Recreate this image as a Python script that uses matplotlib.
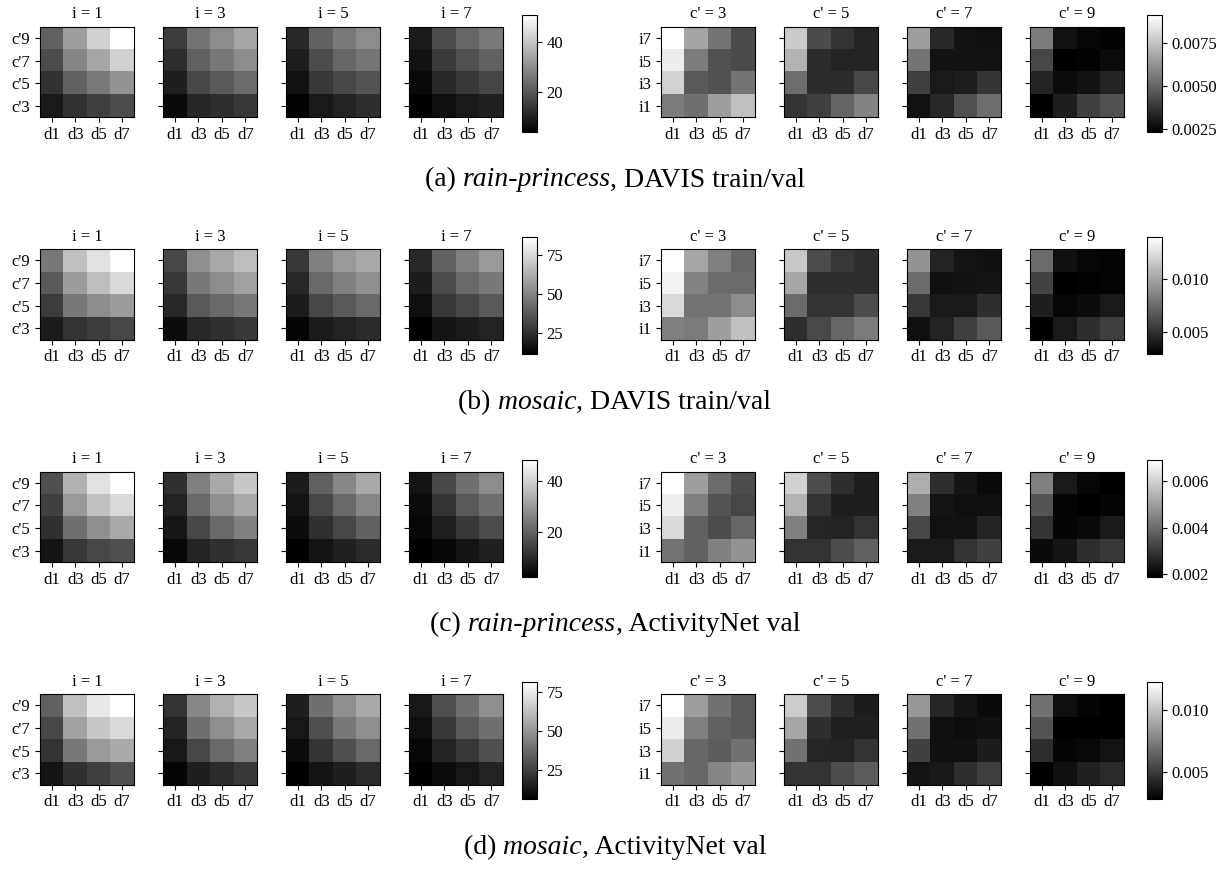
import matplotlib
matplotlib.use("Agg")
from matplotlib import pyplot as plt
import numpy as np

plt.rcParams['font.family'] = ['Liberation Serif', 'DejaVu Serif']
plt.rcParams['font.size'] = 12

W, H = 1230, 872

# axis labels
d_labels = ['d1', 'd3', 'd5', 'd7']
c_labels = ["c'9", "c'7", "c'5", "c'3"]      # rows top to bottom
i_labels = ['i7', 'i5', 'i3', 'i1']          # rows top to bottom
left_titles = ['i = 1', 'i = 3', 'i = 5', 'i = 7']
right_titles = ["c' = 3", "c' = 5", "c' = 7", "c' = 9"]

# (a) rain-princess, DAVIS train/val  -- left: rows c'9..c'3, cols d1..d7
a_left = [
    [[21.7, 33.0, 42.3, 50.7], [18.0, 28.3, 34.4, 42.3], [13.3, 21.7, 26.4, 31.1], [8.7, 13.3, 15.7, 18.0]],
    [[15.2, 25.0, 29.7, 34.4], [12.4, 21.7, 26.0, 29.7], [9.6, 17.1, 20.3, 23.6], [5.9, 11.0, 12.4, 14.3]],
    [[11.5, 21.7, 26.4, 29.7], [9.6, 18.0, 22.7, 25.5], [7.3, 14.3, 17.1, 19.4], [4.5, 8.7, 10.5, 12.4]],
    [[9.1, 18.0, 22.7, 26.4], [7.3, 14.7, 18.9, 21.7], [5.9, 11.5, 14.3, 16.6], [4.0, 6.8, 8.7, 10.1]],
]
# right: rows i7..i1, cols d1..d7 (x 1e-3)
a_right = [
    [[9.1, 6.7, 5.4, 4.3], [8.6, 5.6, 4.5, 4.3], [7.9, 4.7, 4.5, 5.4], [5.6, 5.3, 6.5, 7.4]],
    [[7.7, 4.3, 3.7, 3.3], [7.1, 3.5, 3.3, 3.3], [5.2, 3.5, 3.5, 4.2], [3.7, 4.0, 5.0, 5.8]],
    [[6.5, 3.4, 2.8, 2.7], [5.4, 2.8, 2.8, 2.8], [4.0, 3.0, 3.1, 3.7], [2.8, 3.4, 4.5, 5.2]],
    [[5.6, 2.8, 2.5, 2.4], [4.2, 2.35, 2.4, 2.6], [3.3, 2.6, 2.8, 3.3], [2.3, 3.1, 4.0, 4.5]],
]

# (b) mosaic, DAVIS train/val
b_left = [
    [[46.3, 67.3, 77.0, 86.0], [37.3, 56.8, 66.5, 74.8], [29.0, 46.3, 52.3, 56.8], [19.3, 26.0, 29.0, 32.0]],
    [[32.0, 53.0, 60.5, 66.5], [27.5, 46.3, 52.3, 58.3], [23.0, 37.3, 41.8, 46.3], [14.8, 23.0, 25.3, 27.5]],
    [[27.5, 48.5, 56.0, 60.5], [23.0, 41.8, 48.5, 53.0], [19.3, 32.0, 37.3, 41.8], [12.5, 19.3, 21.5, 23.8]],
    [[23.0, 39.5, 48.5, 56.0], [19.3, 33.5, 41.8, 46.3], [15.5, 27.5, 32.0, 37.3], [11.0, 17.0, 19.3, 21.5]],
]
b_right = [
    [[13.9, 10.05, 8.4, 7.3], [13.35, 8.6, 7.5, 7.5], [12.25, 7.85, 7.85, 8.95], [8.4, 8.2, 9.7, 11.15]],
    [[11.5, 6.2, 5.3, 4.9], [10.05, 4.9, 4.9, 4.9], [7.5, 5.1, 5.1, 6.2], [4.9, 6.0, 7.3, 8.2]],
    [[9.3, 4.4, 3.8, 3.6], [7.5, 3.6, 3.7, 3.8], [5.3, 4.0, 4.0, 4.9], [3.6, 4.4, 5.65, 6.75]],
    [[7.5, 3.6, 3.2, 3.1], [5.8, 2.9, 3.0, 3.1], [4.2, 3.2, 3.45, 4.0], [2.9, 4.0, 4.9, 5.65]],
]

# (c) rain-princess, ActivityNet val
c_left = [
    [[16.8, 34.2, 43.0, 48.5], [14.0, 30.1, 37.0, 41.6], [11.2, 22.7, 28.3, 32.9], [6.2, 12.6, 15.4, 16.8]],
    [[11.2, 25.5, 32.9, 38.4], [8.9, 21.4, 28.3, 32.9], [6.6, 15.4, 21.4, 25.5], [3.9, 8.9, 11.2, 12.6]],
    [[7.6, 20.0, 26.9, 32.9], [6.2, 15.4, 21.4, 26.9], [4.8, 11.2, 15.4, 20.0], [2.5, 6.2, 8.3, 10.3]],
    [[6.2, 15.4, 22.7, 27.8], [4.8, 11.7, 18.6, 22.7], [3.9, 8.3, 12.6, 16.3], [2.5, 3.9, 6.2, 8.3]],
]
c_right = [
    [[6.9, 5.0, 4.0, 3.4], [6.55, 4.4, 3.55, 3.3], [6.15, 3.8, 3.4, 3.9], [4.15, 3.8, 4.4, 4.8]],
    [[6.0, 3.4, 2.8, 2.5], [5.4, 2.9, 2.5, 2.5], [4.4, 2.65, 2.6, 2.9], [2.9, 2.9, 3.4, 3.8]],
    [[5.3, 2.8, 2.3, 2.1], [4.4, 2.3, 2.2, 2.2], [3.3, 2.25, 2.25, 2.6], [2.4, 2.4, 2.9, 3.2]],
    [[4.4, 2.4, 2.05, 1.9], [3.55, 2.0, 1.9, 2.0], [2.9, 2.0, 2.1, 2.4], [2.1, 2.3, 2.8, 3.0]],
]

# (d) mosaic, ActivityNet val
d_left = [
    [[34.8, 62.4, 74.3, 81.0], [27.4, 53.4, 64.6, 69.8], [21.4, 41.5, 51.2, 55.7], [12.5, 20.7, 25.1, 29.6]],
    [[21.4, 46.0, 57.9, 64.6], [16.9, 39.3, 48.2, 55.7], [13.2, 27.4, 37.0, 43.8], [8.0, 15.8, 19.2, 22.9]],
    [[15.8, 39.3, 48.2, 55.7], [13.2, 29.6, 41.5, 48.2], [10.2, 21.4, 29.6, 37.0], [6.5, 12.5, 15.8, 19.2]],
    [[13.2, 29.6, 39.3, 48.2], [11.0, 22.9, 32.6, 39.3], [8.7, 16.9, 22.9, 29.6], [6.5, 10.2, 13.2, 16.9]],
]
d_right = [
    [[12.2, 8.6, 7.0, 6.1], [11.5, 7.5, 6.4, 6.1], [10.5, 6.6, 6.2, 7.0], [7.0, 6.6, 7.7, 8.4]],
    [[10.3, 5.6, 4.5, 3.9], [8.9, 4.5, 4.0, 4.0], [7.0, 4.2, 4.1, 4.7], [4.7, 4.7, 5.6, 6.2]],
    [[8.4, 4.2, 3.5, 3.2], [7.0, 3.4, 3.3, 3.4], [5.2, 3.4, 3.4, 3.9], [3.55, 3.7, 4.5, 5.1]],
    [[7.0, 3.4, 3.0, 2.8], [5.9, 2.8, 2.8, 2.8], [4.5, 3.0, 3.1, 3.5], [2.8, 3.4, 4.0, 4.4]],
]

left_ticks = [[20, 40], [25, 50, 75], [20, 40], [25, 50, 75]]
right_ticks = [[0.0025, 0.0050, 0.0075], [0.005, 0.010], [0.002, 0.004, 0.006], [0.005, 0.010]]

captions = [
    ('(a) ', 'rain-princess', ', DAVIS train/val'),
    ('(b) ', 'mosaic', ', DAVIS train/val'),
    ('(c) ', 'rain-princess', ', ActivityNet val'),
    ('(d) ', 'mosaic', ', ActivityNet val'),
]

rows = [
    (a_left, a_right),
    (b_left, b_right),
    (c_left, c_right),
    (d_left, d_right),
]

fig = plt.figure(figsize=(W / 100, H / 100), dpi=100)


def px_axes(x, top, w, h):
    return fig.add_axes([x / W, 1 - (top + h) / H, w / W, h / H])


def draw_group(data, x0s, cbar_x, top, titles, ylabels, ticks):
    data = np.asarray(data)
    vmin, vmax = data.min(), data.max()
    im = None
    for k, x0 in enumerate(x0s):
        ax = px_axes(x0, top + 11.7, 94, 90.6)
        im = ax.imshow(data[k], cmap='gray', vmin=vmin, vmax=vmax, aspect='auto')
        ax.set_title(titles[k], fontsize=12)
        ax.set_xticks(range(4))
        ax.set_xticklabels(d_labels)
        ax.set_yticks(range(4))
        if k == 0:
            ax.set_yticklabels(ylabels)
        else:
            ax.set_yticklabels([])
    cax = px_axes(cbar_x, top, 15, 117)
    cb = fig.colorbar(im, cax=cax)
    cb.set_ticks(ticks)


left_x = [40 + 123 * k for k in range(4)]
right_x = [661 + 123 * k for k in range(4)]

for r, (lft, rgt) in enumerate(rows):
    top = 15 + 222.4 * r
    draw_group(lft, left_x, 522, top, left_titles, c_labels, left_ticks[r])
    draw_group(np.asarray(rgt) * 1e-3, right_x, 1147, top, right_titles, i_labels, right_ticks[r])

# captions with italic middle part, centred as a whole
renderer = fig.canvas.get_renderer()
for r, (pre, it, post) in enumerate(captions):
    y = 1 - (180 + 222.4 * r) / H
    parts = [fig.text(0, y, pre, fontsize=20, va='center'),
             fig.text(0, y, it, fontsize=20, style='italic', va='center'),
             fig.text(0, y, post, fontsize=20, va='center')]
    widths = [t.get_window_extent(renderer).width for t in parts]
    x = (W - sum(widths)) / 2
    for t, w in zip(parts, widths):
        t.set_x(x / W)
        x += w

plt.savefig('out.png', dpi=100)
